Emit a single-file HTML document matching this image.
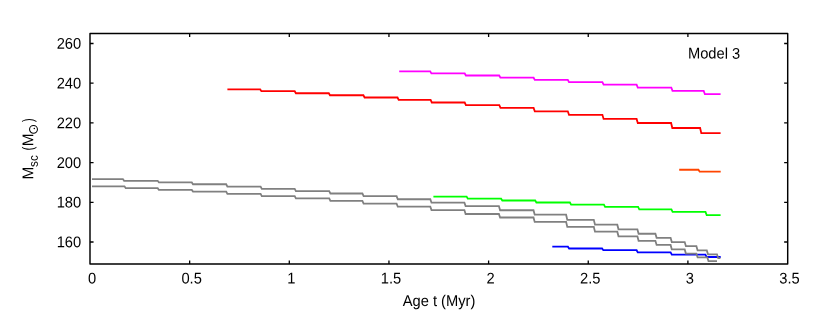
<!DOCTYPE html>
<html><head><meta charset="utf-8"><title>Model 3</title>
<style>
html,body{margin:0;padding:0;background:#fff;}
body{width:817px;height:327px;overflow:hidden;font-family:"Liberation Sans",sans-serif;}
svg{display:block;}
</style></head><body>
<div style="will-change:transform;filter:opacity(1);width:817px;height:327px"><svg width="817" height="327" viewBox="0 0 817 327">
<rect width="817" height="327" fill="#fff"/>
<rect x="90.0" y="33.55" width="697.7" height="230.45" fill="none" stroke="#000" stroke-width="1.45" stroke-linejoin="round"/>
<path d="M189.65,264.00 V260.45 M189.65,33.55 V37.10 M289.30,264.00 V260.45 M289.30,33.55 V37.10 M388.95,264.00 V260.45 M388.95,33.55 V37.10 M488.60,264.00 V260.45 M488.60,33.55 V37.10 M588.25,264.00 V260.45 M588.25,33.55 V37.10 M687.90,264.00 V260.45 M687.90,33.55 V37.10 M90.00,242.00 H93.55 M787.70,242.00 H784.15 M90.00,202.30 H93.55 M787.70,202.30 H784.15 M90.00,162.60 H93.55 M787.70,162.60 H784.15 M90.00,122.90 H93.55 M787.70,122.90 H784.15 M90.00,83.20 H93.55 M787.70,83.20 H784.15 M90.00,43.50 H93.55 M787.70,43.50 H784.15 " stroke="#000" stroke-width="1.3" fill="none"/>
<path d="M227.40,89.40 L260.20,89.40 L261.40,91.20 L294.70,91.20 L295.90,93.25 L328.80,93.25 L330.00,95.26 L363.40,95.26 L364.60,97.50 L397.50,97.50 L398.70,99.90 L430.60,99.90 L431.80,102.50 L464.70,102.50 L465.90,105.10 L499.30,105.10 L500.50,107.90 L533.60,107.90 L534.80,111.30 L567.80,111.30 L569.00,114.80 L602.40,114.80 L603.60,118.95 L636.60,118.95 L637.80,123.00 L671.10,123.00 L672.30,128.00 L700.10,128.00 L701.30,133.15 L720.60,133.15" stroke="#ff0000" stroke-width="1.8" fill="none" stroke-linejoin="miter" stroke-linecap="butt"/>
<path d="M399.20,71.40 L430.20,71.40 L431.40,73.45 L464.70,73.45 L465.90,75.50 L499.20,75.50 L500.40,77.70 L533.60,77.70 L534.80,79.90 L567.80,79.90 L569.00,82.20 L602.40,82.20 L603.60,84.70 L636.60,84.70 L637.80,87.55 L671.30,87.55 L672.50,90.90 L703.70,90.90 L704.90,94.20 L720.60,94.20" stroke="#ff00ff" stroke-width="1.8" fill="none" stroke-linejoin="miter" stroke-linecap="butt"/>
<path d="M433.40,196.60 L466.60,196.60 L467.80,198.70 L501.10,198.70 L502.30,200.50 L535.20,200.50 L536.40,202.50 L569.90,202.50 L571.10,204.60 L603.90,204.60 L605.10,206.90 L638.10,206.90 L639.30,209.30 L671.40,209.30 L672.60,211.90 L705.50,211.90 L706.70,215.10 L720.60,215.10" stroke="#00ff00" stroke-width="1.8" fill="none" stroke-linejoin="miter" stroke-linecap="butt"/>
<path d="M679.20,169.75 L698.45,169.75 L699.65,171.70 L720.70,171.70" stroke="#ff4500" stroke-width="1.8" fill="none" stroke-linejoin="miter" stroke-linecap="butt"/>
<path d="M552.30,246.70 L567.90,246.70 L569.10,248.50 L602.10,248.50 L603.30,250.20 L636.60,250.20 L637.80,252.40 L670.60,252.40 L671.80,254.60 L705.40,254.60 L706.60,257.00 L720.70,257.00" stroke="#0000ff" stroke-width="1.8" fill="none" stroke-linejoin="miter" stroke-linecap="butt"/>
<path d="M92.00,179.10 L122.90,179.10 L124.10,180.80 L157.70,180.80 L158.90,182.45 L191.80,182.45 L193.00,184.25 L226.20,184.25 L227.40,186.55 L260.60,186.55 L261.80,188.85 L294.70,188.85 L295.90,191.10 L329.20,191.10 L330.40,193.50 L362.40,193.50 L363.60,196.15 L396.60,196.15 L397.80,199.25 L430.30,199.25 L431.50,202.70 L464.40,202.70 L465.60,206.10 L498.90,206.10 L500.10,210.25 L533.50,210.25 L534.70,214.70 L566.10,214.70 L567.30,219.90 L593.80,219.90 L595.00,224.70 L617.30,224.70 L618.50,229.30 L637.40,229.30 L638.60,233.75 L655.40,233.75 L656.60,237.80 L670.60,237.80 L671.80,242.05 L684.70,242.05 L685.90,246.20 L696.40,246.20 L697.60,250.40 L706.80,250.40 L708.00,254.35 L717.00,254.35 L718.20,258.20 L720.40,258.20" stroke="#808080" stroke-width="1.8" fill="none" stroke-linejoin="miter" stroke-linecap="butt"/>
<path d="M92.00,186.30 L124.50,186.30 L125.70,188.15 L157.70,188.15 L158.90,189.90 L191.80,189.90 L193.00,191.60 L226.20,191.60 L227.40,193.90 L260.60,193.90 L261.80,196.10 L294.70,196.10 L295.90,198.40 L329.20,198.40 L330.40,200.90 L362.40,200.90 L363.60,203.60 L396.60,203.60 L397.80,206.70 L430.30,206.70 L431.50,210.10 L464.40,210.10 L465.60,214.00 L498.90,214.00 L500.10,217.50 L533.50,217.50 L534.70,221.90 L566.10,221.90 L567.30,226.90 L593.80,226.90 L595.00,231.70 L617.30,231.70 L618.50,236.30 L637.40,236.30 L638.60,240.85 L655.40,240.85 L656.60,244.90 L670.60,244.90 L671.80,249.45 L684.70,249.45 L685.90,253.60 L696.40,253.60 L697.60,257.30 L707.30,257.30 L708.50,261.20 L717.00,261.20" stroke="#808080" stroke-width="1.8" fill="none" stroke-linejoin="miter" stroke-linecap="butt"/>
<g font-family="Liberation Sans, sans-serif" font-size="14.7" fill="#000" style="text-rendering:geometricPrecision"><text transform="translate(81.20,247.30) rotate(0.05) scale(1,1.06)" text-anchor="end">160</text>
<text transform="translate(81.20,207.60) rotate(0.05) scale(1,1.06)" text-anchor="end">180</text>
<text transform="translate(81.20,167.90) rotate(0.05) scale(1,1.06)" text-anchor="end">200</text>
<text transform="translate(81.20,128.20) rotate(0.05) scale(1,1.06)" text-anchor="end">220</text>
<text transform="translate(81.20,88.50) rotate(0.05) scale(1,1.06)" text-anchor="end">240</text>
<text transform="translate(81.20,48.80) rotate(0.05) scale(1,1.06)" text-anchor="end">260</text>
<text transform="translate(92.00,283.50) rotate(0.05) scale(1,1.06)" text-anchor="middle">0</text>
<text transform="translate(191.65,283.50) rotate(0.05) scale(1,1.06)" text-anchor="middle">0.5</text>
<text transform="translate(291.30,283.50) rotate(0.05) scale(1,1.06)" text-anchor="middle">1</text>
<text transform="translate(390.95,283.50) rotate(0.05) scale(1,1.06)" text-anchor="middle">1.5</text>
<text transform="translate(490.60,283.50) rotate(0.05) scale(1,1.06)" text-anchor="middle">2</text>
<text transform="translate(590.25,283.50) rotate(0.05) scale(1,1.06)" text-anchor="middle">2.5</text>
<text transform="translate(689.90,283.50) rotate(0.05) scale(1,1.06)" text-anchor="middle">3</text>
<text transform="translate(789.55,283.50) rotate(0.05) scale(1,1.06)" text-anchor="middle">3.5</text>
<text transform="translate(687.90,58.60) rotate(0.05) scale(1,1.06)" text-anchor="start">Model 3</text>
<text transform="translate(439.00,305.95) rotate(0.05) scale(1,1.06)" text-anchor="middle">Age t (Myr)</text>
<g transform="translate(33.2,179.5) rotate(-89.95)"><text transform="translate(-0.05,0.00) scale(1.04,1.06)" font-size="14.7">M</text><text transform="translate(12.60,4.60) scale(1.0,1.06)" font-size="11.76">sc</text><text transform="translate(29.10,0.00) scale(0.78,1.06)" font-size="14.7">(</text><text transform="translate(33.25,0.00) scale(1.04,1.06)" font-size="14.7">M</text><circle cx="50.15" cy="0.25" r="3.95" fill="none" stroke="#000" stroke-width="1.05"/><circle cx="51.00" cy="1.05" r="0.75" fill="#000"/><text transform="translate(57.40,0.00) scale(0.78,1.06)" font-size="14.7">)</text></g></g>
</svg></div>
</body></html>
